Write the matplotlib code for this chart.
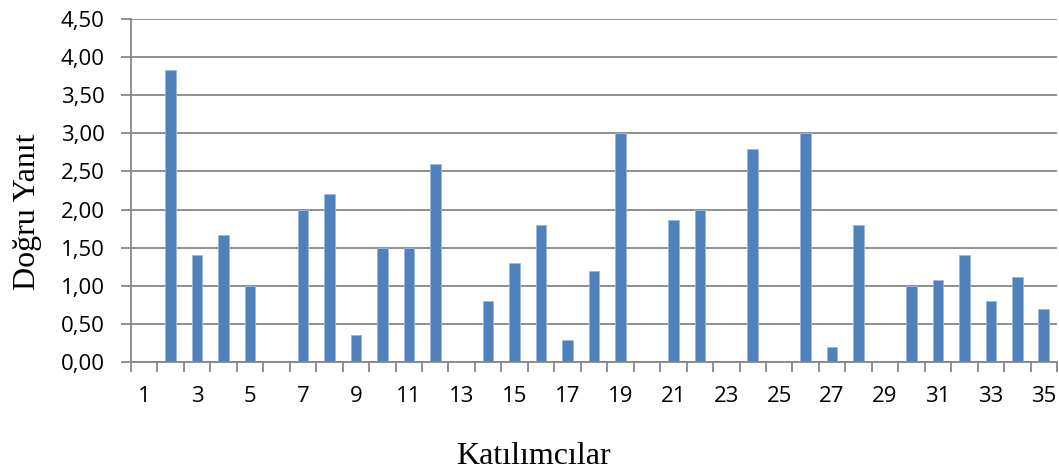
import numpy as np
import matplotlib.pyplot as plt
from matplotlib.ticker import FixedLocator, FuncFormatter

# Katılımcı numaraları ve doğru yanıt ortalamaları
participants = list(range(1, 36))
correct = [0.00, 3.83, 1.40, 1.67, 1.00, 0.00, 2.00, 2.20, 0.36, 1.50,
           1.50, 2.60, 0.00, 0.80, 1.30, 1.80, 0.29, 1.20, 3.00, 0.00,
           1.86, 2.00, 0.00, 2.80, 0.00, 3.00, 0.20, 1.80, 0.00, 1.00,
           1.08, 1.40, 0.80, 1.11, 0.70]
y_ticks = [0, 0.5, 1, 1.5, 2, 2.5, 3, 3.5, 4, 4.5]

grid_col = '#878787'
W, H = 1059, 470

fig = plt.figure(figsize=(W / 100, H / 100), dpi=100)
ax = fig.add_axes([131 / W, 1 - 362 / H, 926 / W, 343 / H])

ax.bar(participants, correct, width=0.4, color='#4F81BD',
       edgecolor='#9DB7DA', linewidth=0.6, zorder=3)

ax.set_xlim(0.5, 35.5)
ax.set_ylim(0, 4.5)

ax.set_yticks(y_ticks)
ax.yaxis.set_major_formatter(FuncFormatter(lambda v, p: f'{v:.2f}'.replace('.', ',')))
ax.grid(axis='y', color=grid_col, linewidth=1.3, zorder=0)

# etiketler kategorilerin ortasında, çentikler aralarında
ax.set_xticks(participants[::2])
ax.set_xticklabels([str(p) for p in participants[::2]])
ax.xaxis.set_minor_locator(FixedLocator(np.arange(0.5, 36, 1)))
ax.tick_params(axis='x', which='major', length=0, pad=17)
ax.tick_params(axis='x', which='minor', length=7, width=1.3, color=grid_col)
ax.tick_params(axis='y', length=7, width=1.3, color=grid_col, pad=12)
ax.tick_params(labelsize=16)
for lbl in ax.get_xticklabels() + ax.get_yticklabels():
    lbl.set_fontfamily('Open Sans')

for s in ['top', 'right']:
    ax.spines[s].set_visible(False)
for s in ['left', 'bottom']:
    ax.spines[s].set_color(grid_col)
    ax.spines[s].set_linewidth(1.3)
    ax.spines[s].set_zorder(4)

fig.text(28 / W, 1 - 212 / H, 'Doğru Yanıt', rotation=90, ha='center', va='center',
         fontfamily='Liberation Serif', fontsize=23)
fig.text(533 / W, 1 - 464 / H, 'Katılımcılar', ha='center', va='baseline',
         fontfamily='Liberation Serif', fontsize=23)

fig.savefig('out.png', dpi=100)
